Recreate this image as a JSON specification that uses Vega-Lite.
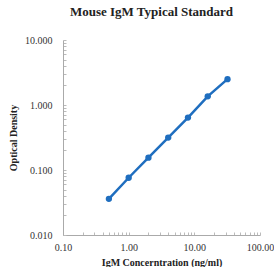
{
  "$schema": "https://vega.github.io/schema/vega-lite/v6.json",
  "width": 197,
  "height": 195,
  "autosize": "none",
  "padding": {"left": 63, "top": 40, "right": 14, "bottom": 32},
  "background": "white",
  "title": {"text": "Mouse IgM Typical Standard", "font": "Liberation Serif", "fontSize": 13, "fontWeight": "bold", "color": "#222", "offset": 16, "dx": -10},
  "data": {"values": [
    {"conc": 0.5, "od": 0.036},
    {"conc": 1, "od": 0.076},
    {"conc": 2, "od": 0.155},
    {"conc": 4, "od": 0.315},
    {"conc": 8, "od": 0.64},
    {"conc": 16, "od": 1.36},
    {"conc": 32, "od": 2.5}
  ]},
  "encoding": {
    "x": {"field": "conc", "type": "quantitative", "scale": {"type": "log", "domain": [0.1, 100], "nice": false},
      "axis": {"title": "IgM Concerntration (ng/ml)", "values": [0.1,0.2,0.3,0.4,0.5,0.6,0.7,0.8,0.9,1,2,3,4,5,6,7,8,9,10,20,30,40,50,60,70,80,90,100],
        "labelExpr": "abs(log(datum.value)/LN10 - round(log(datum.value)/LN10)) < 0.001 ? format(datum.value, '.2f') : ''",
        "grid": false, "tickSize": -3, "labelPadding": 10, "titlePadding": 5}},
    "y": {"field": "od", "type": "quantitative", "scale": {"type": "log", "domain": [0.01, 10], "nice": false},
      "axis": {"title": "Optical Density", "values": [0.01,0.02,0.03,0.04,0.05,0.06,0.07,0.08,0.09,0.1,0.2,0.3,0.4,0.5,0.6,0.7,0.8,0.9,1,2,3,4,5,6,7,8,9,10],
        "labelExpr": "abs(log(datum.value)/LN10 - round(log(datum.value)/LN10)) < 0.001 ? format(datum.value, '.3f') : ''",
        "grid": false, "tickSize": -3, "labelPadding": 14, "titlePadding": 6}}
  },
  "layer": [
    {"mark": {"type": "line", "color": "#1F6EBF", "strokeWidth": 2.5}},
    {"mark": {"type": "point", "filled": true, "color": "#1F6EBF", "size": 40, "opacity": 1}}
  ],
  "config": {
    "view": {"stroke": null},
    "axis": {"labelFont": "Liberation Serif", "labelFontSize": 10, "labelColor": "#333", "titleFont": "Liberation Serif", "titleFontSize": 10, "titleFontWeight": "bold", "titleColor": "#222", "domainColor": "#aaa", "tickColor": "#bbb", "labelFlush": false, "labelOverlap": false}
  }
}
